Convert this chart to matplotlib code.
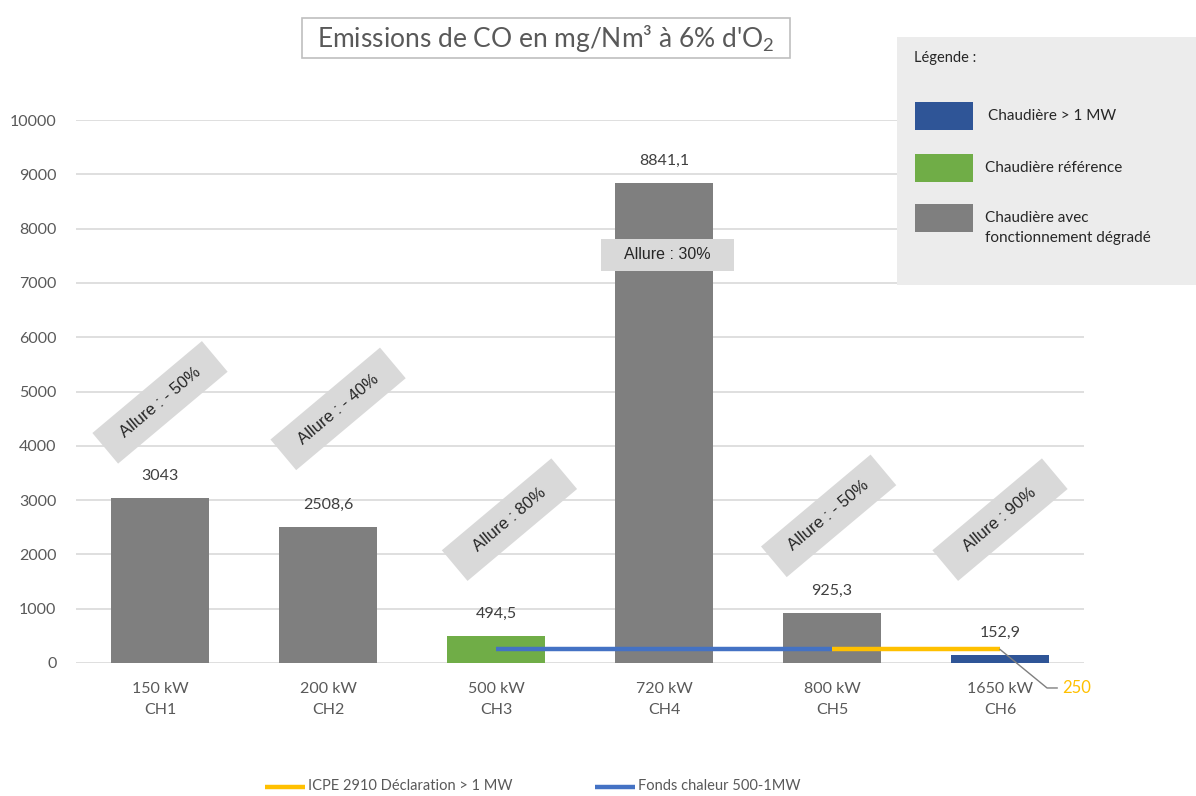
import numpy as np
import matplotlib
matplotlib.use("Agg")
import matplotlib.pyplot as plt
from matplotlib.patches import Rectangle
from matplotlib.lines import Line2D
from matplotlib.transforms import Affine2D, ScaledTranslation

plt.rcParams['font.family'] = ['Lato', 'DejaVu Sans']
plt.rcParams['mathtext.default'] = 'regular'

# --- data -------------------------------------------------------------
categories = ["150 kW\nCH1", "200 kW\nCH2", "500 kW\nCH3",
              "720 kW\nCH4", "800 kW\nCH5", "1650 kW\nCH6"]
emissions = [3043, 2508.6, 494.5, 8841.1, 925.3, 152.9]
bar_kind = ["degraded", "degraded", "reference", "degraded", "degraded", "large"]
allure_labels = ["Allure : - 50%", "Allure : - 40%", "Allure : 80%",
                 "Allure : 30%", "Allure : - 50%", "Allure : 90%"]
fonds_chaleur = [np.nan, np.nan, 250, 250, 250, np.nan]
icpe_2910 = [np.nan, np.nan, np.nan, np.nan, 250, 250]
series_names = ["ICPE 2910 Déclaration > 1 MW", "Fonds chaleur 500-1MW"]
y_ticks = [0, 1000, 2000, 3000, 4000, 5000, 6000, 7000, 8000, 9000, 10000]

# --- styling ----------------------------------------------------------
kind_colors = {"degraded": "#7f7f7f", "reference": "#70ad47", "large": "#2f5597"}
kind_names = {"large": "Chaudière > 1 MW",
              "reference": "Chaudière référence",
              "degraded": "Chaudière avec\nfonctionnement dégradé"}
ICPE_COLOR = "#ffc000"
FONDS_COLOR = "#4472c4"
TXT = "#404040"
TICK = "#595959"

W, H = 1196, 796
fig = plt.figure(figsize=(W / 100, H / 100), dpi=100)
fig.patch.set_facecolor("white")

def fx(px):
    return px / W

def fy(py):
    return 1 - py / H

ax_left, ax_right, ax_top, ax_bottom = 76, 1084, 120, 663
ax = fig.add_axes([fx(ax_left), fy(ax_bottom), fx(ax_right - ax_left),
                   (ax_bottom - ax_top) / H])
x = np.arange(len(categories))
ax.set_xlim(-0.5, len(categories) - 0.5)
ax.set_ylim(0, 10000)

for s in ax.spines.values():
    s.set_visible(False)
ax.set_yticks(y_ticks)
ax.set_yticklabels([str(t) for t in y_ticks])
ax.grid(axis="y", color="#d9d9d9", linewidth=1.2)
ax.set_axisbelow(True)
ax.tick_params(axis="y", length=0, pad=14, labelsize=11.5, labelcolor=TICK)
ax.set_xticks(x)
ax.set_xticklabels(categories, linespacing=1.6)
ax.tick_params(axis="x", length=0, pad=14, labelsize=11.5, labelcolor=TICK)

colors = [kind_colors[k] for k in bar_kind]
bars = ax.bar(x, emissions, width=0.58, color=colors, zorder=2)

def fr_number(v):
    s = f"{v:g}"
    return s.replace(".", ",")

for xi, v in zip(x, emissions):
    ax.annotate(fr_number(v), (xi, v), xytext=(0, 22), textcoords="offset pixels",
                ha="center", va="center", fontsize=11.5, color=TXT)

# threshold lines
ax.plot(x, fonds_chaleur, color=FONDS_COLOR, linewidth=3.2, zorder=3,
        solid_capstyle="butt")
ax.plot(x, icpe_2910, color=ICPE_COLOR, linewidth=3.2, zorder=4,
        solid_capstyle="butt")

# leader line and value label for the ICPE threshold
ax.plot([5, 5.28, 5.34], [250, -460, -460], color="#7f7f7f", linewidth=1,
        clip_on=False, zorder=4)
ax.text(5.37, -460, "250", color=ICPE_COLOR, fontsize=12, ha="left",
        va="center", clip_on=False)

# tilted "Allure" tags
def tag(xd, yd, text, angle, w_px, h_px, size):
    tr = Affine2D().rotate_deg(angle) + ScaledTranslation(xd, yd, ax.transData)
    rect = Rectangle((-w_px / 2, -h_px / 2), w_px, h_px, facecolor="#d9d9d9",
                     edgecolor="none", transform=tr, clip_on=False, zorder=5)
    ax.add_patch(rect)
    ax.text(xd, yd, text, rotation=angle, rotation_mode="anchor", ha="center",
            va="center", fontsize=size, color="#262626", zorder=6,
            family=["Liberation Sans", "DejaVu Sans"])

tag_pos = [(0.0, 4800, 40), (1.06, 4680, 40), (2.08, 2640, 40),
           (3.02, 7520, 0), (3.98, 2710, 40), (5.0, 2640, 40)]
for (xd, yd, ang), lab in zip(tag_pos, allure_labels):
    if ang == 0:
        tag(xd, yd, lab, ang, 133, 32, 11.5)
    else:
        tag(xd, yd, lab, ang, 143, 40, 12)

# title box
fig.patches.append(Rectangle((fx(302), fy(58)), fx(488), 40 / H,
                             transform=fig.transFigure, facecolor="white",
                             edgecolor="#bfbfbf", linewidth=1.2))
fig.text(fx(546), fy(39), "Emissions de CO en mg/Nm³ à 6% d'O$_2$",
         ha="center", va="center", fontsize=19, color=TICK)

# category legend panel
fig.patches.append(Rectangle((fx(897), fy(285)), fx(W - 897), 248 / H,
                             transform=fig.transFigure, facecolor="#ececec",
                             edgecolor="none"))
fig.text(fx(914), fy(58), "Légende :", ha="left", va="center",
         fontsize=10.5, color="#262626")
legend_rows = [("large", 116, 988), ("reference", 168, 985), ("degraded", 218, 985)]
for kind, yc, tx in legend_rows:
    fig.patches.append(Rectangle((fx(915), fy(yc + 14)), fx(58), 28 / H,
                                 transform=fig.transFigure,
                                 facecolor=kind_colors[kind], edgecolor="none"))
    fig.text(fx(tx), fy(yc + (10 if kind == "degraded" else 0)),
             kind_names[kind], ha="left", va="center", fontsize=11,
             color="#262626", linespacing=1.6)

# series legend below the plot
series_keys = [(ICPE_COLOR, 265), (FONDS_COLOR, 595)]
for (col, x0), name in zip(series_keys, series_names):
    fig.add_artist(Line2D([fx(x0), fx(x0 + 40)], [fy(787), fy(787)],
                          transform=fig.transFigure, color=col, linewidth=3.2,
                          solid_capstyle="butt"))
    fig.text(fx(x0 + 43), fy(786), name, ha="left", va="center",
             fontsize=10.5, color=TICK)

fig.savefig("out.png", dpi=100)
